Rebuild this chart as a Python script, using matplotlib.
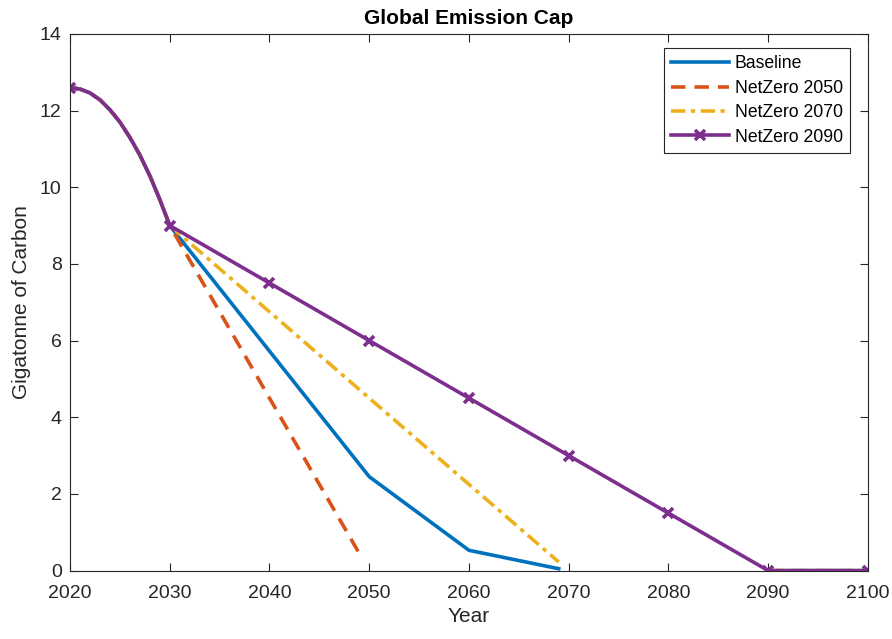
import numpy as np
import matplotlib.pyplot as plt

plt.rcParams['font.family'] = ['Liberation Sans', 'DejaVu Sans']

# shared decline 2020-2030
curve_years = [2020, 2021, 2022, 2023, 2024, 2025, 2026, 2027, 2028, 2029, 2030]
curve_vals = [12.6, 12.56, 12.46, 12.28, 12.02, 11.7, 11.3, 10.84, 10.3, 9.68, 9.0]

tail_years = [2090, 2100]
tail_vals = [0, 0]

base_years = [2050, 2060, 2069]
base_vals = [2.45, 0.53, 0.05]

nz50_years = [2049]
nz50_vals = [0.45]

nz70_years = [2069]
nz70_vals = [0.225]

nz90_years = [2040, 2050, 2060, 2070, 2080, 2090, 2100]
nz90_vals = [7.5, 6.0, 4.5, 3.0, 1.5, 0.0, 0.0]

labels = ['Baseline', 'NetZero 2050', 'NetZero 2070', 'NetZero 2090']
colors = ['#0072BD', '#D95319', '#EDB120', '#7E2F8E']


def with_tail(years, vals):
	x = curve_years + years + [np.nan] + tail_years
	y = curve_vals + vals + [np.nan] + tail_vals
	return x, y


fig = plt.figure(figsize=(8.92, 6.39), dpi=100)
ax = fig.add_axes([0.0785, 0.107, 0.8945, 0.84])

x, y = with_tail(base_years, base_vals)
ax.plot(x, y, '-', color=colors[0], lw=2.6, label=labels[0])
x, y = with_tail(nz50_years, nz50_vals)
ax.plot(x, y, '--', color=colors[1], lw=2.6, label=labels[1], dashes=(4, 2.5))
x, y = with_tail(nz70_years, nz70_vals)
ax.plot(x, y, '-.', color=colors[2], lw=2.6, label=labels[2], dashes=(4, 1.5, 1.2, 1.5))

x90 = curve_years + nz90_years
y90 = curve_vals + nz90_vals
marks = [i for i, yr in enumerate(x90) if yr % 10 == 0]
ax.plot(x90, y90, '-', color=colors[3], lw=2.6, marker='x', ms=7, mew=2.6,
	markevery=marks, label=labels[3])

ax.set_xlim(2020, 2100)
ax.set_ylim(0, 14)
ax.set_xticks(range(2020, 2101, 10))
ax.set_yticks(range(0, 15, 2))
ax.tick_params(direction='in', top=True, right=True, labelsize=14, colors='#262626',
	length=6, width=0.8)
ax.tick_params(axis='x', pad=10)
ax.tick_params(axis='y', pad=6)
for s in ax.spines.values():
	s.set_color('#262626')
	s.set_linewidth(0.8)
ax.set_xlabel('Year', fontsize=15, color='#262626', labelpad=4)
ax.set_ylabel('Gigatonne of Carbon', fontsize=15, color='#262626', labelpad=6)
ax.set_title('Global Emission Cap', fontsize=15, fontweight='bold', pad=7)

leg = ax.legend(loc='upper right', bbox_to_anchor=(0.9775, 0.973), fontsize=12.7,
	fancybox=False, edgecolor='#262626', handlelength=3.3, borderpad=0.4,
	labelspacing=0.42, handletextpad=0.3, borderaxespad=0, framealpha=1)
leg.get_frame().set_linewidth(0.8)

fig.savefig('out.png', dpi=100)
